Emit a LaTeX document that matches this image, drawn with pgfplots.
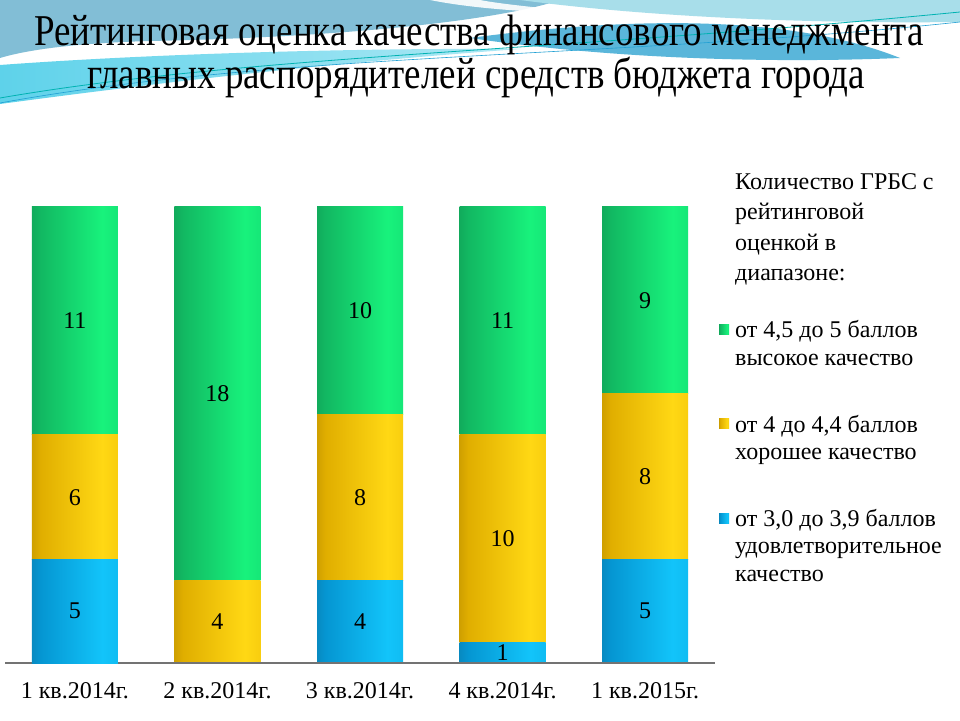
\documentclass[border=0pt]{standalone}
\usepackage{pgfplots}
\pgfplotsset{compat=1.18}
\usepackage{pgfplotstable}
\usepackage{fontspec}
\setmainfont{Liberation Serif}
\newfontfamily\titlefont[FakeStretch=0.84]{Liberation Serif}

\definecolor{b0}{HTML}{124E6C}
\definecolor{b1}{HTML}{0596D2}
\definecolor{b2}{HTML}{12C4FA}
\definecolor{b3}{HTML}{0AA6DC}
\definecolor{y0}{HTML}{7A5800}
\definecolor{y1}{HTML}{E0AE00}
\definecolor{y2}{HTML}{FFD814}
\definecolor{y3}{HTML}{E6B000}
\definecolor{g0}{HTML}{0A6A3C}
\definecolor{g1}{HTML}{12B862}
\definecolor{g2}{HTML}{18F27C}
\definecolor{g3}{HTML}{10C86A}
\definecolor{legB}{HTML}{10B0F0}
\definecolor{legY}{HTML}{FFC000}
\definecolor{legG}{HTML}{1CD06C}
\definecolor{wSteel}{HTML}{82BED6}
\definecolor{wCyan}{HTML}{5ED2EA}
\definecolor{wLight}{HTML}{A8DEEA}
\definecolor{wMid}{HTML}{5AB6DA}

\pgfdeclarehorizontalshading{blueshade}{100bp}{color(0bp)=(b0); color(30bp)=(b1); color(66bp)=(b2); color(100bp)=(b3)}
\pgfdeclarehorizontalshading{yellowshade}{100bp}{color(0bp)=(y0); color(30bp)=(y1); color(66bp)=(y2); color(100bp)=(y3)}
\pgfdeclarehorizontalshading{greenshade}{100bp}{color(0bp)=(g0); color(30bp)=(g1); color(66bp)=(g2); color(100bp)=(g3)}

\pgfplotstableread{
x blue yellow green
0 5 6 11
1 0 4 18
2 4 8 10
3 1 10 11
4 5 8 9
}\ratingdata

\pgfplotsset{
  basegeom/.style={
    at={(5pt,57pt)}, anchor=south west,
    scale only axis, width=710pt, height=456pt,
    xmin=-0.49, xmax=4.49, ymin=0, ymax=22,
    ybar stacked, bar width=86pt, clip=false,
    /pgf/number format/assume math mode=true,
    point meta=explicit,
    nodes near coords={\pgfmathfloatifflags{\pgfplotspointmeta}{0}{}{\pgfmathprintnumber{\pgfplotspointmeta}}},
    every node near coord/.append style={font=\fontsize{24}{28}\selectfont, text=black},
  },
}

\newcommand\stackbars{%
\addplot[draw=none, shading=blueshade,
  legend image code/.code={\fill[legB] (0pt,22pt) rectangle (10pt,32pt);}]
  table[x=x, y=blue, meta=blue] {\ratingdata};
\addplot[draw=none, shading=yellowshade,
  legend image code/.code={\fill[legY] (0pt,9pt) rectangle (10pt,19pt);}]
  table[x=x, y=yellow, meta=yellow] {\ratingdata};
\addplot[draw=none, shading=greenshade,
  legend image code/.code={\fill[legG] (0pt,9pt) rectangle (10pt,19pt);}]
  table[x=x, y=green, meta=green] {\ratingdata};
}

\begin{document}
\begin{tikzpicture}[x=1pt,y=1pt]
\useasboundingbox (0,0) rectangle (960,720);
\fill[white] (0,0) rectangle (960,720);
% decorative background waves
\fill[wSteel] (0,720) -- (560,720) .. controls (500,700) and (350,683) .. (150,679) .. controls (80,677) and (30,671) .. (0,662) -- cycle;
\fill[wLight] (520,720) -- (960,720) -- (960,698) .. controls (800,696) and (640,704) .. (520,720) -- cycle;
\fill[white, opacity=0.9] (430,720) .. controls (470,712) and (520,708) .. (620,704) .. controls (540,712) and (500,716) .. (480,720) -- cycle;
\fill[wMid] (470,682) .. controls (650,706) and (800,702) .. (900,662) .. controls (780,657) and (620,660) .. (470,682) -- cycle;
\shade[left color=wCyan, right color=wCyan!50!white] (0,655) .. controls (150,666) and (350,672) .. (520,671) .. controls (300,655) and (120,632) .. (0,616) -- cycle;
\draw[teal!60!cyan, line width=0.8pt] (0,622) .. controls (250,665) and (550,668) .. (960,708);
\draw[cyan!70!teal, line width=0.6pt] (0,617) .. controls (280,668) and (620,662) .. (960,698);
% title
\node[anchor=base, font=\titlefont\fontsize{44}{50}\selectfont, inner sep=0pt] at (479,674) {Рейтинговая оценка качества финансового менеджмента};
\node[anchor=base, font=\titlefont\fontsize{44}{50}\selectfont, inner sep=0pt] at (476,631) {главных распорядителей средств бюджета города};

\pgfplotsinvokeforeach{1,2,3,4}{
\begin{axis}[basegeom, hide axis, restrict x to domain=#1:#1]
\stackbars
\end{axis}
}

\begin{axis}[basegeom, restrict x to domain=0:0,
  axis x line*=bottom, axis y line=none,
  x axis line style={draw=gray!90!black, line width=1.2pt, -},
  xtick={0,1,2,3,4},
  xticklabels={1 кв.2014г., 2 кв.2014г., 3 кв.2014г., 4 кв.2014г., 1 кв.2015г.},
  major tick length=0pt,
  xticklabel style={font=\fontsize{24}{28}\selectfont, anchor=center, yshift=-28pt},
  legend style={at={(1.0014,0.76)}, anchor=north west, draw=none, fill=none,
     font=\fontsize{24}{27.5}\selectfont, row sep=44pt, cells={align=left},
     /tikz/every odd column/.append style={column sep=4pt}},
  legend cell align=left,
  reverse legend,
]
\stackbars
\addlegendentry{от 3,0 до 3,9 баллов\\удовлетворительное\\качество}
\addlegendentry{от 4 до 4,4 баллов\\хорошее качество}
\addlegendentry{от 4,5 до 5 баллов\\высокое качество}
\end{axis}

\node[anchor=north west, align=left, inner sep=0pt, font=\fontsize{24}{30.5}\selectfont] at (735,547)
  {Количество ГРБС с\\рейтинговой\\оценкой в\\диапазоне:};
\end{tikzpicture}
\end{document}
